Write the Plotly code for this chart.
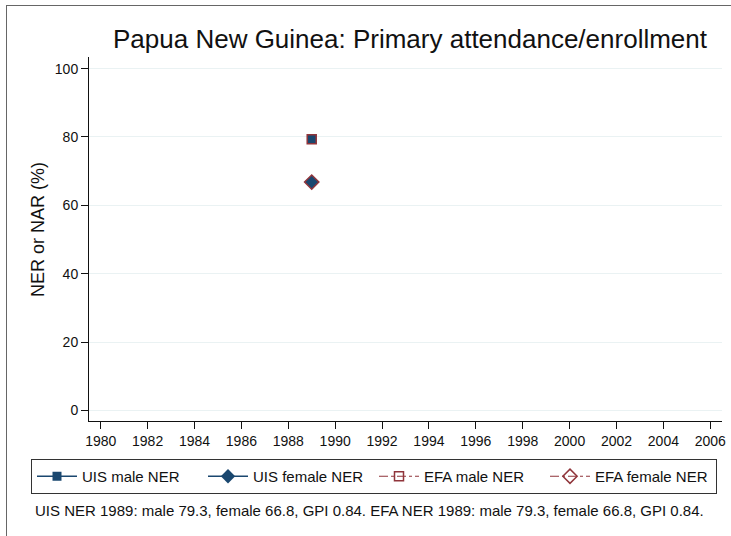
import plotly.graph_objects as go

years = [1989]
uis_male = [79.3]
uis_female = [66.8]
efa_male = [79.3]
efa_female = [66.8]
x_ticks = list(range(1980, 2007, 2))
y_ticks = [0, 20, 40, 60, 80, 100]

navy = "#1a476f"
red = "#90353b"
font = "Liberation Sans, Arial, sans-serif"

fig = go.Figure()
fig.add_trace(go.Scatter(x=years, y=uis_male, name="UIS male NER", mode="lines+markers",
                         line=dict(color=navy, width=1.5),
                         marker=dict(symbol="square", size=9, color=navy)))
fig.add_trace(go.Scatter(x=years, y=uis_female, name="UIS female NER", mode="lines+markers",
                         line=dict(color=navy, width=1.5),
                         marker=dict(symbol="diamond", size=11, color=navy)))
fig.add_trace(go.Scatter(x=years, y=efa_male, name="EFA male NER", mode="lines+markers",
                         line=dict(color=red, width=1.2, dash="dashdot"),
                         marker=dict(symbol="square-open", size=9, color=red, line=dict(width=1.5))))
fig.add_trace(go.Scatter(x=years, y=efa_female, name="EFA female NER", mode="lines+markers",
                         line=dict(color=red, width=1.2, dash="dashdot"),
                         marker=dict(symbol="diamond-open", size=11, color=red, line=dict(width=1.5))))

L, R, T, B = 89, 9, 57, 115
W, H = 731, 536
pw, ph = W - L - R, H - T - B

def px(xp):
    return (xp - L) / pw

def py(yp):
    return (H - B - yp) / ph

fig.update_layout(
    width=W, height=H,
    margin=dict(l=L, r=R, t=T, b=B, autoexpand=False),
    paper_bgcolor="white", plot_bgcolor="white",
    font=dict(family=font, size=14, color="#111"),
    title=dict(text="Papua New Guinea: Primary attendance/enrollment",
               font=dict(size=26, color="#111"), xref="container", x=410 / W,
               xanchor="center", y=1 - 39 / H, yanchor="middle"),
    showlegend=True,
    legend=dict(orientation="h", x=px(31), y=py(459), xanchor="left", yanchor="top",
                bordercolor="#333", borderwidth=1, font=dict(size=15),
                tracegroupgap=0, itemwidth=40, entrywidth=116),
    xaxis=dict(range=[1979.5, 2006.5], tickvals=x_ticks, showgrid=False, zeroline=False,
               showline=True, linecolor="#111", linewidth=1, automargin=False,
               ticks="outside", ticklen=7, tickcolor="#111", tickfont=dict(size=14)),
    yaxis=dict(range=[-3.1, 103.4], tickvals=y_ticks, showgrid=True, gridcolor="#eaf2f3",
               gridwidth=1, zeroline=False, showline=True, linecolor="#111", linewidth=1,
               ticks="outside", ticklen=7, tickcolor="#111", tickfont=dict(size=14),
               automargin=False),
    annotations=[
        dict(text="NER or NAR (%)", textangle=-90, xref="paper", yref="paper",
             x=px(38), y=py(230), xanchor="center", yanchor="middle",
             showarrow=False, font=dict(size=18)),
        dict(text="UIS NER 1989: male 79.3, female 66.8, GPI 0.84. EFA NER 1989: male 79.3, female 66.8, GPI 0.84.",
             xref="paper", yref="paper", x=px(33), y=py(510), xanchor="left",
             yanchor="middle", showarrow=False, font=dict(size=15)),
    ],
    shapes=[
        dict(type="line", xref="paper", yref="paper", x0=px(6), x1=px(731),
             y0=py(5.5), y1=py(5.5), line=dict(color="#666", width=1)),
        dict(type="line", xref="paper", yref="paper", x0=px(6.5), x1=px(6.5),
             y0=py(5), y1=py(536), line=dict(color="#666", width=1)),
    ],
)

fig.write_html("out.html", config={"displayModeBar": False},
               post_script="document.body.style.margin='0';")
